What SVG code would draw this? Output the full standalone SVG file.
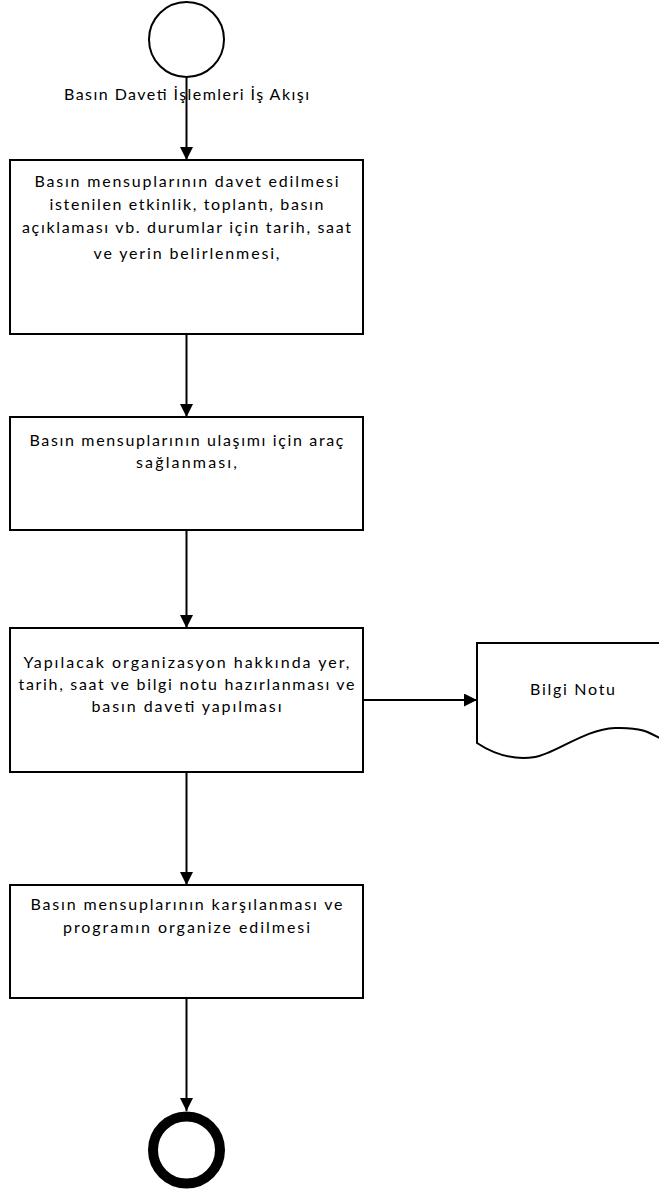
<svg xmlns="http://www.w3.org/2000/svg" width="659" height="1191" viewBox="0 0 659 1191">
  <style>
    .box { fill: #ffffff; stroke: #000000; stroke-width: 2; }
    .lbl { font-family: Lato, "Open Sans", "Noto Sans", sans-serif; font-size: 16px; fill: #000000; text-anchor: middle; }
    .edge { fill: none; stroke: #000000; stroke-width: 2; }
  </style>
  <defs>
    <marker id="arrow" markerUnits="userSpaceOnUse" markerWidth="13" markerHeight="13" refX="13" refY="6.5" orient="auto">
      <path d="M0,0 L13,6.5 L0,13 Z" fill="#000000"/>
    </marker>
  </defs>

  <rect width="659" height="1191" fill="#ffffff"/>

  <!-- start event -->
  <g id="start">
    <circle cx="186.5" cy="39.5" r="37.5" fill="#ffffff" stroke="#000000" stroke-width="2"/>
  </g>
  <g id="title">
    <text class="lbl" x="186.5" y="100" textLength="245" lengthAdjust="spacing">Basın Daveti İşlemleri İş Akışı</text>
  </g>

  <!-- process steps -->
  <g id="step1">
    <rect class="box" x="10" y="160" width="353" height="174"/>
    <text class="lbl" x="186.5" y="187" textLength="304" lengthAdjust="spacing">Basın mensuplarının davet edilmesi</text>
    <text class="lbl" x="186.5" y="210" textLength="274" lengthAdjust="spacing">istenilen etkinlik, toplantı, basın</text>
    <text class="lbl" x="186.5" y="233" textLength="329" lengthAdjust="spacing">açıklaması vb. durumlar için tarih, saat</text>
    <text class="lbl" x="186.5" y="259" textLength="186" lengthAdjust="spacing">ve yerin belirlenmesi,</text>
  </g>

  <g id="step2">
    <rect class="box" x="10" y="417" width="353" height="113"/>
    <text class="lbl" x="186.5" y="446" textLength="314" lengthAdjust="spacing">Basın mensuplarının ulaşımı için araç</text>
    <text class="lbl" x="186.5" y="468" textLength="101" lengthAdjust="spacing">sağlanması,</text>
  </g>

  <g id="step3">
    <rect class="box" x="10" y="628" width="353" height="144"/>
    <text class="lbl" x="186.5" y="668" textLength="326" lengthAdjust="spacing">Yapılacak organizasyon hakkında yer,</text>
    <text class="lbl" x="186.5" y="690" textLength="336" lengthAdjust="spacing">tarih, saat ve bilgi notu hazırlanması ve</text>
    <text class="lbl" x="186.5" y="712" textLength="190" lengthAdjust="spacing">basın daveti yapılması</text>
  </g>

  <g id="step4">
    <rect class="box" x="10" y="885" width="353" height="113"/>
    <text class="lbl" x="186.5" y="910" textLength="312" lengthAdjust="spacing">Basın mensuplarının karşılanması ve</text>
    <text class="lbl" x="186.5" y="933" textLength="247" lengthAdjust="spacing">programın organize edilmesi</text>
  </g>

  <!-- document output -->
  <g id="document">
    <path d="M477,743 C495,755 515,760 535,757 S585,729 615,728 S650,733 672,745 L700,745 L700,643 L477,643 Z" fill="#ffffff" stroke="#000000" stroke-width="2"/>
    <text class="lbl" x="572.5" y="695" textLength="85" lengthAdjust="spacing">Bilgi Notu</text>
  </g>

  <!-- end event -->
  <g id="end">
    <circle cx="186.5" cy="1150" r="33.5" fill="#ffffff" stroke="#000000" stroke-width="10"/>
  </g>

  <!-- connectors -->
  <g id="connectors">
    <path class="edge" d="M186.5,77 V160" marker-end="url(#arrow)"/>
    <path class="edge" d="M186.5,334 V417" marker-end="url(#arrow)"/>
    <path class="edge" d="M186.5,530 V628" marker-end="url(#arrow)"/>
    <path class="edge" d="M186.5,772 V885" marker-end="url(#arrow)"/>
    <path class="edge" d="M186.5,998 V1111" marker-end="url(#arrow)"/>
    <path class="edge" d="M363,700 H477" marker-end="url(#arrow)"/>
  </g>
</svg>
